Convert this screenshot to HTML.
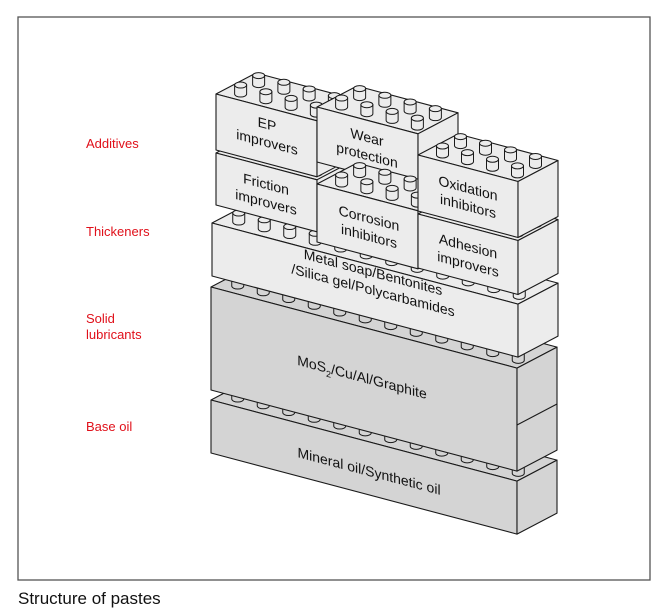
<!DOCTYPE html>
<html><head><meta charset="utf-8">
<style>
html,body{margin:0;padding:0;background:#fff;}
svg{display:block;}
text{font-family:"Liberation Sans",Arial,sans-serif;}
</style></head>
<body>
<svg id="s" width="667" height="614" viewBox="0 0 667 614" xmlns="http://www.w3.org/2000/svg">
<rect x="18" y="17" width="632" height="563" fill="#fff" stroke="#555" stroke-width="1.3"/>
<g fill="#e0101a" font-size="13">
<text x="86" y="148">Additives</text>
<text x="86" y="236">Thickeners</text>
<text x="86" y="323">Solid</text>
<text x="86" y="339">lubricants</text>
<text x="86" y="431">Base oil</text>
</g>
<g id="shapes"></g>
<g fill="#111" font-size="14" text-anchor="middle">
<g transform="translate(267,132) skewY(14.8)"><text y="-3">EP</text><text y="15">improvers</text></g>
<g transform="translate(367,145) skewY(14.8)"><text y="-3">Wear</text><text y="15">protection</text></g>
<g transform="translate(468,196) skewY(14.8)"><text y="-3">Oxidation</text><text y="15">inhibitors</text></g>
<g transform="translate(266,192) skewY(14.8)"><text y="-3">Friction</text><text y="15">improvers</text></g>
<g transform="translate(369,226) skewY(14.8)"><text y="-3">Corrosion</text><text y="15">inhibitors</text></g>
<g transform="translate(468,254) skewY(14.8)"><text y="-3">Adhesion</text><text y="15">improvers</text></g>
<g transform="translate(373,280) skewY(14.8)"><text y="-3">Metal soap/Bentonites</text><text y="15">/Silica gel/Polycarbamides</text></g>
<g transform="translate(362,382) skewY(14.8)"><text>MoS<tspan font-size="9" dy="4">2</tspan><tspan dy="-4">/Cu/Al/Graphite</tspan></text></g>
<g transform="translate(369,476) skewY(14.8)"><text>Mineral oil/Synthetic oil</text></g>
</g>
<text x="18" y="604" font-size="17" fill="#111">Structure of pastes</text>
</svg>
<script>
(function(){
var g=document.getElementById('shapes');var NS='http://www.w3.org/2000/svg';
var S=0.265,DX=40,DY=-21;
function el(t,a){var e=document.createElementNS(NS,t);for(var k in a)e.setAttribute(k,a[k]);g.appendChild(e);return e;}
function poly(pts,fill){el('polygon',{points:pts.map(function(p){return p[0].toFixed(1)+','+p[1].toFixed(1)}).join(' '),fill:fill,stroke:'#1a1a1a','stroke-width':1.1,'stroke-linejoin':'round'});}
function stud(cx,cy,fill){
 var r=6,ry=3,h=9;
 el('path',{d:'M'+(cx-r)+','+(cy-h)+' L'+(cx-r)+','+cy+' A'+r+','+ry+' 0 0 0 '+(cx+r)+','+cy+' L'+(cx+r)+','+(cy-h)+' Z',fill:fill,stroke:'#1a1a1a','stroke-width':1});
 el('ellipse',{cx:cx,cy:cy-h,rx:r,ry:ry,fill:fill,stroke:'#1a1a1a','stroke-width':1});
}
function box(x,y,w,h,fill,studs,cols,rows){
 var ws=w*S;
 poly([[x,y],[x+w,y+ws],[x+w+DX,y+ws+DY],[x+DX,y+DY]],fill);
 poly([[x,y],[x+w,y+ws],[x+w,y+ws+h],[x,y+h]],fill);
 poly([[x+w,y+ws],[x+w+DX,y+ws+DY],[x+w+DX,y+ws+DY+h],[x+w,y+ws+h]],fill);
 if(studs){
  for(var j=rows.length-1;j>=0;j--){
   for(var i=0;i<cols;i++){
    var t=(i+0.5)*w/cols, u=rows[j];
    stud(x+t+u*DX, y+t*S+u*DY+3, fill);
   }
  }
 }
}
// base oil
box(211,400,306,53,'#d4d4d4',true,12,[0.35]);
// solid lubricants
box(211,287,306,103,'#d4d4d4',true,12,[0.35]);
// side split line
el('line',{x1:517,y1:425,x2:557,y2:404,stroke:'#1a1a1a','stroke-width':1.1});
// thickeners
box(212,223,306,53,'#ececec',true,12,[0.35]);
// bricks
box(216,153,101,52,'#ececec',true,4,[0.3,0.75]);
box(216,94,101,56,'#ececec',true,4,[0.3,0.75]);
box(317,107,101,55,'#ececec',true,4,[0.3,0.75]);
box(317,184,101,58,'#ececec',true,4,[0.3,0.75]);
box(418,214,100,54,'#ececec',true,4,[0.3,0.75]);
box(418,155,100,56,'#ececec',true,4,[0.3,0.75]);
})();
</script>
</body></html>
